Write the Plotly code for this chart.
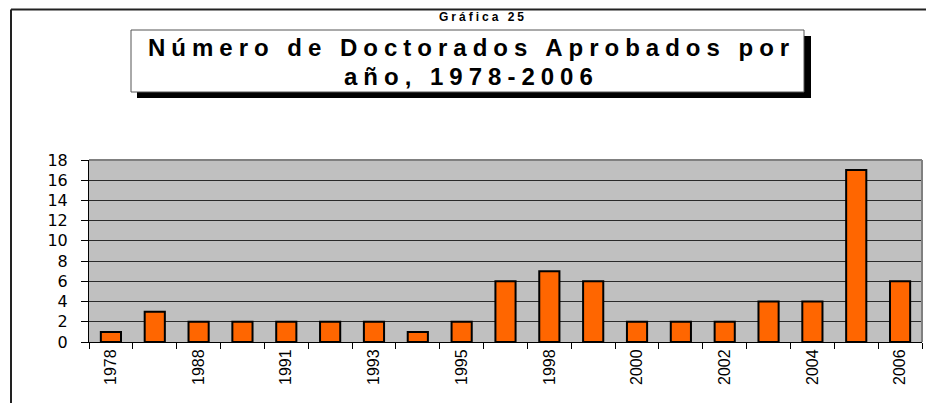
import plotly.graph_objects as go

# ---- data ----
years = ["1978", "1987", "1988", "1990", "1991", "1992", "1993", "1994", "1995",
         "1997", "1998", "1999", "2000", "2001", "2002", "2003", "2004", "2005", "2006"]
doctorados = [1, 3, 2, 2, 2, 2, 2, 1, 2, 6, 7, 6, 2, 2, 2, 4, 4, 17, 6]
tick_labels = ["1978", "", "1988", "", "1991", "", "1993", "", "1995",
               "", "1998", "", "2000", "", "2002", "", "2004", "", "2006"]
y_ticks = [0, 2, 4, 6, 8, 10, 12, 14, 16, 18]

title_line1 = "Número de Doctorados Aprobados por"
title_line2 = "año, 1978-2006"
header = "Gráfica 25"

# page is 934x403; the figure div sits 8px in from the top-left (body margin)
OFF = 8
W, H = 934 - OFF, 403 - OFF
L, R, T, B = 89 - OFF, 12, 160 - OFF, 61
PW, PH = W - L - R, H - T - B


def px(x):
    """page-pixel x -> paper coordinate"""
    return (x - OFF - L) / PW


def py(y):
    """page-pixel y -> paper coordinate"""
    return (H - B - (y - OFF)) / PH


fig = go.Figure()
fig.add_trace(go.Bar(
    x=years, y=doctorados,
    marker=dict(color="#FF6600", line=dict(color="#000000", width=2)),
))

shapes = [
    # outer frame
    dict(type="line", xref="paper", yref="paper", x0=px(11), x1=px(945), y0=py(9.5), y1=py(9.5),
         line=dict(color="#222222", width=2), layer="above"),
    dict(type="line", xref="paper", yref="paper", x0=px(11), x1=px(11), y0=py(9.5), y1=py(420),
         line=dict(color="#222222", width=2), layer="above"),
    # title shadow
    dict(type="rect", xref="paper", yref="paper", x0=px(137), x1=px(811), y0=py(36), y1=py(98),
         fillcolor="#000000", line=dict(width=0), layer="above"),
    # title box
    dict(type="rect", xref="paper", yref="paper", x0=px(131), x1=px(804), y0=py(30), y1=py(92),
         fillcolor="#FFFFFF", line=dict(color="#555555", width=1), layer="above"),
    # plot border top/right (gray)
    dict(type="line", xref="paper", yref="paper", x0=0, x1=1, y0=1, y1=1,
         line=dict(color="#808080", width=2), layer="above"),
    dict(type="line", xref="paper", yref="paper", x0=1, x1=1, y0=0, y1=1,
         line=dict(color="#808080", width=2), layer="above"),
]

annotations = [
    dict(text="<b><span style='letter-spacing:3px'>" + header + "</span></b>",
         xref="paper", yref="paper", x=px(483), y=py(17), showarrow=False,
         xanchor="center", yanchor="middle",
         font=dict(family="Liberation Sans", size=12, color="#000000")),
    dict(text="<b><span style='letter-spacing:6px'>" + title_line1 + "</span></b>",
         xref="paper", yref="paper", x=px(471), y=py(47), showarrow=False,
         xanchor="center", yanchor="middle",
         font=dict(family="Liberation Sans", size=24, color="#000000")),
    dict(text="<b><span style='letter-spacing:6px'>" + title_line2 + "</span></b>",
         xref="paper", yref="paper", x=px(471), y=py(76), showarrow=False,
         xanchor="center", yanchor="middle",
         font=dict(family="Liberation Sans", size=24, color="#000000")),
]

fig.update_layout(
    width=W, height=H,
    margin=dict(l=L, r=R, t=T, b=B, pad=0),
    paper_bgcolor="#FFFFFF",
    plot_bgcolor="#C0C0C0",
    showlegend=False,
    bargap=0.54,
    shapes=shapes,
    annotations=annotations,
    font=dict(family="Liberation Sans", color="#000000"),
)

fig.update_xaxes(
    type="category",
    automargin=False,
    tickmode="array", tickvals=years, ticktext=tick_labels,
    tickangle=-90,
    tickson="boundaries",
    ticks="outside", ticklen=6, tickcolor="#000000", tickwidth=1,
    showline=True, linecolor="#000000", linewidth=1,
    showgrid=False,
    tickfont=dict(family="Liberation Sans", size=16, color="#000000"),
)

fig.update_yaxes(
    automargin=False,
    range=[0, 18],
    tickmode="array", tickvals=y_ticks,
    ticks="outside", ticklen=7, tickcolor="#000000", tickwidth=1,
    showline=True, linecolor="#000000", linewidth=1,
    showgrid=True, gridcolor="#2a2a2a", gridwidth=1,
    zeroline=False,
    ticklabelstandoff=10,
    tickfont=dict(family="DejaVu Sans", size=16, color="#000000"),
)

fig.write_html("out.html")
